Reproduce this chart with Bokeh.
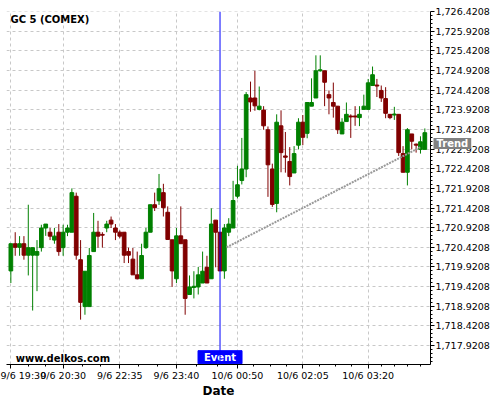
from bokeh.plotting import figure
from bokeh.models import ColumnDataSource, FixedTicker, Range1d, Label, Span, NumeralTickFormatter
from bokeh.core.properties import value
from bokeh.embed import file_html
from bokeh.resources import INLINE

# ---- data ----
opens = [1719.821, 1720.513, 1720.421, 1720.513, 1720.221, 1720.221, 1720.221, 1720.413, 1720.913, 1720.806,
         1720.605, 1720.806, 1720.413, 1720.806, 1720.806, 1721.721, 1720.106, 1718.913, 1718.913, 1720.313,
         1720.806, 1720.750, 1720.913, 1721.113, 1720.913, 1720.806, 1720.806, 1720.313, 1720.121, 1719.721,
         1719.621, 1720.413, 1720.806, 1721.505, 1721.605, 1721.813, 1721.313, 1720.613, 1719.621, 1720.713,
         1720.613, 1719.221, 1719.400, 1719.413, 1719.513, 1719.913, 1719.621, 1721.113, 1720.806, 1719.821,
         1720.806, 1720.913, 1721.721, 1722.121, 1722.413, 1724.221, 1724.221, 1723.931, 1723.913, 1723.413,
         1722.413, 1721.538, 1723.513, 1722.746, 1722.606, 1722.313, 1723.021, 1723.605, 1723.321, 1724.013,
         1724.221, 1724.913, 1724.913, 1724.306, 1724.106, 1724.013, 1723.306, 1723.621, 1723.763, 1723.763,
         1723.721, 1723.931, 1723.931, 1724.538, 1724.550, 1724.413, 1724.206, 1723.805, 1723.788, 1723.805,
         1722.806, 1722.331, 1723.306, 1723.046, 1722.913, 1722.913]
highs = [1720.513, 1720.806, 1720.706, 1720.706, 1721.505, 1720.413, 1720.605, 1720.996, 1721.013, 1720.913,
         1720.913, 1721.013, 1720.996, 1720.996, 1721.921, 1721.813, 1720.605, 1719.813, 1720.405, 1721.296,
         1721.096, 1720.806, 1721.096, 1721.205, 1721.013, 1720.850, 1720.806, 1720.413, 1720.405, 1720.313,
         1720.513, 1720.913, 1721.505, 1721.813, 1722.288, 1722.038, 1721.463, 1720.613, 1720.913, 1721.463,
         1720.613, 1719.706, 1719.813, 1719.921, 1720.313, 1720.206, 1721.413, 1721.113, 1720.806, 1721.013,
         1721.163, 1722.113, 1722.496, 1723.205, 1724.371, 1724.638, 1724.913, 1724.513, 1724.013, 1723.496,
         1722.550, 1723.805, 1723.906, 1723.356, 1722.971, 1722.996, 1723.706, 1723.788, 1724.106, 1724.721,
         1725.306, 1725.306, 1724.913, 1724.413, 1724.613, 1724.013, 1723.706, 1724.106, 1723.805, 1724.013,
         1724.013, 1724.306, 1724.706, 1725.021, 1724.706, 1724.538, 1724.496, 1723.805, 1723.996, 1723.805,
         1722.996, 1723.455, 1723.306, 1723.063, 1723.246, 1723.446]
lows = [1719.513, 1720.206, 1720.206, 1720.106, 1719.706, 1718.813, 1719.306, 1720.313, 1720.713, 1720.605,
        1720.513, 1720.206, 1720.206, 1720.706, 1720.806, 1720.106, 1718.581, 1718.706, 1718.913, 1720.313,
        1720.413, 1720.413, 1720.806, 1720.913, 1720.605, 1720.650, 1720.021, 1720.021, 1719.721, 1719.605,
        1719.621, 1720.380, 1720.806, 1721.346, 1721.500, 1721.205, 1720.621, 1719.413, 1719.513, 1720.513,
        1718.706, 1719.221, 1719.121, 1719.221, 1719.513, 1719.513, 1719.621, 1719.913, 1719.821, 1719.621,
        1720.706, 1720.913, 1721.663, 1722.021, 1722.205, 1723.871, 1723.896, 1723.906, 1723.413, 1721.705,
        1721.450, 1721.313, 1722.331, 1722.321, 1721.996, 1722.313, 1722.913, 1723.021, 1723.196, 1724.013,
        1724.221, 1724.890, 1724.013, 1723.806, 1723.721, 1723.306, 1723.306, 1723.621, 1723.205, 1723.513,
        1723.505, 1723.931, 1723.931, 1724.538, 1724.246, 1724.121, 1723.706, 1723.681, 1723.663, 1722.746,
        1722.331, 1721.996, 1722.913, 1722.831, 1722.806, 1722.913]
closes = [1720.513, 1720.421, 1720.513, 1720.221, 1720.413, 1720.413, 1720.313, 1720.913, 1721.013, 1720.706,
          1720.706, 1720.313, 1720.806, 1720.913, 1721.813, 1720.221, 1719.021, 1719.813, 1720.213, 1720.806,
          1720.706, 1720.730, 1721.013, 1721.013, 1720.806, 1720.706, 1720.221, 1720.221, 1719.721, 1719.621,
          1720.213, 1720.806, 1721.505, 1721.430, 1721.913, 1721.430, 1720.621, 1719.821, 1720.713, 1720.513,
          1719.121, 1719.413, 1719.430, 1719.721, 1719.813, 1719.513, 1721.013, 1720.806, 1719.821, 1720.913,
          1721.013, 1721.613, 1722.013, 1722.413, 1724.306, 1724.121, 1724.021, 1724.013, 1723.513, 1722.521,
          1721.513, 1723.605, 1722.831, 1722.713, 1722.221, 1722.806, 1723.605, 1723.221, 1724.106, 1724.106,
          1724.913, 1724.938, 1724.621, 1724.221, 1724.013, 1723.413, 1723.605, 1723.805, 1723.738, 1723.738,
          1723.805, 1724.013, 1724.606, 1724.813, 1724.525, 1724.221, 1723.831, 1723.721, 1723.813, 1722.831,
          1722.331, 1723.413, 1723.121, 1723.021, 1723.106, 1723.338]

tick_index = [0, 12, 25, 38, 52, 67, 82]
tick_labels = ["9/6 19:30", "9/6 20:30", "9/6 22:35", "9/6 23:40",
               "10/6 00:50", "10/6 02:05", "10/6 03:20"]
price_ticks = [1717.9208 + 0.5 * k for k in range(18)]
event_index = 48
trend_index = [49.5, 94.0]
trend_price = [1720.42, 1722.97]

GREEN = "#008000"
RED = "#800000"
FONT = "DejaVu Sans"

n = len(opens)
idx = list(range(n))
cols = [GREEN if c >= o else RED for o, c in zip(opens, closes)]
src = ColumnDataSource(dict(
    x=idx, o=opens, h=highs, l=lows, c=closes,
    top=[max(o, c) for o, c in zip(opens, closes)],
    bottom=[min(o, c) for o, c in zip(opens, closes)],
    color=cols))

y0, y1 = 1717.44, 1726.4215
x0, x1 = -1.0, 96.3

p = figure(width=500, height=400, output_backend="svg", toolbar_location=None,
           x_range=Range1d(x0, x1), y_range=Range1d(y0, y1),
           y_axis_location="right", x_axis_location="below",
           min_border_left=6, min_border_top=5, min_border_right=70, min_border_bottom=0)
p.outline_line_color = None
p.background_fill_color = "white"
p.border_fill_color = "white"

# grids
p.xgrid.ticker = FixedTicker(ticks=tick_index)
p.ygrid.ticker = FixedTicker(ticks=price_ticks)
for g in (p.xgrid, p.ygrid):
    g.grid_line_color = "#c8c8c8"
    g.grid_line_dash = "3 3"
    g.grid_line_width = 1

# x axis
minor_x = []
for a, b in zip(tick_index[:4], tick_index[1:5]):
    minor_x += [a + (b - a) * k / 3 for k in (1, 2)]
for a, b in zip(tick_index[4:-1], tick_index[5:]):
    minor_x += [a + (b - a) * k / 4 for k in (1, 2, 3)]
minor_x += [85, 88, 91, 94]
xa = p.xaxis[0]
xa.ticker = FixedTicker(ticks=tick_index, minor_ticks=minor_x)
xa.major_label_overrides = {i: s for i, s in zip(tick_index, tick_labels)}
xa.axis_label = "Date"
xa.axis_label_text_font = FONT
xa.axis_label_text_font_size = "12px"
xa.axis_label_text_font_style = "bold"
xa.axis_label_text_color = "black"
xa.axis_label_standoff = 0

# y axis
minor_y = [1717.4208 + 0.1 * k for k in range(91) if k % 5 != 0]
ya = p.yaxis[0]
ya.ticker = FixedTicker(ticks=price_ticks, minor_ticks=minor_y)
ya.formatter = NumeralTickFormatter(format="0,0.0000")

for ax in (xa, ya):
    ax.axis_line_color = "black"
    ax.axis_line_width = 1
    ax.major_tick_line_color = "black"
    ax.minor_tick_line_color = "black"
    ax.major_tick_in = 0
    ax.major_tick_out = 4
    ax.minor_tick_in = 0
    ax.minor_tick_out = 2
    ax.major_label_text_font = FONT
    ax.major_label_text_font_size = "9.5px"
    ax.major_label_text_color = "black"
    ax.major_label_standoff = 1

# candles
p.segment(x0="x", y0="l", x1="x", y1="h", line_color="color", line_width=1, source=src)
p.vbar(x="x", width=0.85, top="top", bottom="bottom", fill_color="color",
       line_color="color", line_width=1, source=src)

# trend line
p.line(trend_index, trend_price, line_color="#999999", line_width=2, line_dash="2 1")

# event line
p.add_layout(Span(location=event_index, dimension="height", line_color="blue", line_width=1))

ppu = 352.0 / (y1 - y0)  # approx pixels per price unit

# event box
p.rect(x=[event_index], y=[y0 + 7.3 / ppu], width=44, height=13,
       width_units="screen", height_units="screen", fill_color="blue", line_color="blue")
p.text(x=[event_index], y=[y0 + 7.3 / ppu], text=["Event"], text_align="center",
       text_baseline="middle", text_color="white", text_font=value(FONT),
       text_font_size="10px", text_font_style="bold")

# title and watermark
p.text(x=[-0.1], y=[y1 - 7.5 / ppu], text=["GC 5 (COMEX)"], text_align="left",
       text_baseline="alphabetic", text_color="black", text_font=value(FONT),
       text_font_size="10px", text_font_style="bold")
p.text(x=[1.1], y=[y0 + 6.0 / ppu], text=["www.delkos.com"], text_align="left",
       text_baseline="alphabetic", text_color="black", text_font=value(FONT),
       text_font_size="10px", text_font_style="bold")

# trend tag on the axis (kept in the top side panel so it is not clipped to the frame)
trend_tag = Label(x=x1, y=1723.06, text="Trend", text_align="left", text_baseline="middle",
                  x_offset=3, text_color="white", text_font=FONT, text_font_size="10px",
                  text_font_style="bold", background_fill_color="#808080",
                  background_fill_alpha=1.0,
                  padding=dict(left=3, right=3, top=0, bottom=0))
p.add_layout(trend_tag, "above")

open("out.html", "w").write(file_html(p, INLINE))
